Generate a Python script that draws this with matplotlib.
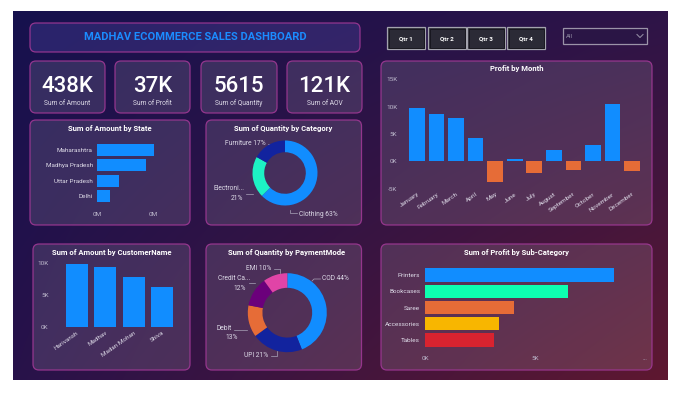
import numpy as np
import matplotlib.pyplot as plt
from matplotlib.patches import FancyBboxPatch
import matplotlib.ticker as mticker

plt.rcParams['font.family'] = ['Roboto', 'DejaVu Sans']

W, H = 680, 393

# ---- data ----
kpi_values = ['438K', '37K', '5615', '121K']
kpi_labels = ['Sum of Amount', 'Sum of Profit', 'Sum of Quantity', 'Sum of AOV']

quarters = ['Qtr 1', 'Qtr 2', 'Qtr 3', 'Qtr 4']

states = ['Maharashtra', 'Madhya Pradesh', 'Uttar Pradesh', 'Delhi']
state_amount = [0.102, 0.088, 0.039, 0.023]  # in millions

categories = ['Clothing', 'Electronics', 'Furniture']
category_qty = [3516, 1154, 945]

months = ['January', 'February', 'March', 'April', 'May', 'June', 'July',
          'August', 'September', 'October', 'November', 'December']
month_profit = [9800, 8600, 8000, 4300, -3800, 500, -2200, 2100, -1500, 3000, 10400, -1700]

customers = ['Harivansh', 'Madhav', 'Madan Mohan', 'Shiva']
customer_amount = [9900, 9400, 7800, 6300]

pay_modes = ['COD', 'UPI', 'Debit', 'Credit Card', 'EMI']
pay_qty = [2470, 1180, 730, 674, 561]

sub_cats = ['Printers', 'Bookcases', 'Saree', 'Accessories', 'Tables']
sub_profit = [8600, 6500, 4050, 3350, 3140]

BLUE = '#118DFF'
ORANGE = '#E66C37'
TXT = '#dedbe8'
TICK = '#bdb8cc'

fig = plt.figure(figsize=(W / 100, H / 100), dpi=100)
fig.patch.set_facecolor('white')

# background canvas in pixel coordinates
bg = fig.add_axes([0, 0, 1, 1])
bg.set_xlim(0, W)
bg.set_ylim(H, 0)
bg.axis('off')

# gradient: navy top-left -> maroon bottom-right
tl = np.array([22, 17, 78]) / 255
tr = np.array([46, 20, 72]) / 255
bl = np.array([40, 18, 74]) / 255
br = np.array([94, 24, 48]) / 255
u = np.linspace(0, 1, 200)[None, :, None]
v = np.linspace(0, 1, 120)[:, None, None]
grad = (1 - v) * ((1 - u) * tl + u * tr) + v * ((1 - u) * bl + u * br)
bg.imshow(grad, extent=(12.5, 667, 380, 11.5), aspect='auto', zorder=0, interpolation='bilinear')


def panel(x0, y0, x1, y1, fc=(1, 1, 1, 0.12), ec=(0.62, 0.22, 0.58, 0.9), r=6):
    bg.add_patch(FancyBboxPatch((x0, y0), x1 - x0, y1 - y0,
                                boxstyle=f'round,pad=0,rounding_size={r}',
                                fc=fc, ec=ec, lw=0.9, zorder=1))


def sub_ax(x0, y0, x1, y1):
    a = fig.add_axes([x0 / W, 1 - y1 / H, (x1 - x0) / W, (y1 - y0) / H])
    a.set_facecolor('none')
    for s in a.spines.values():
        s.set_visible(False)
    a.tick_params(length=0, colors=TICK, labelsize=4.6)
    return a


def k_fmt(v, _):
    return f'{v / 1000:.0f}K'


# ---- header ----
panel(30, 23, 360, 52, fc=(0.42, 0.4, 0.85, 0.22))
bg.text(195, 37.5, 'MADHAV ECOMMERCE SALES DASHBOARD', color='#1b8cff', fontsize=8,
        fontweight='bold', ha='center', va='center', zorder=3)

qx = [387, 428, 467, 507]
for x, q in zip(qx, quarters):
    bg.add_patch(plt.Rectangle((x, 27), 38, 22, fc='#2b2a36', ec='#a3a3ad', lw=0.9, zorder=2))
    bg.add_patch(plt.Rectangle((x + 1.5, 28.5), 35, 19, fc='none', ec='#15141c', lw=0.6, zorder=2))
    bg.text(x + 19, 38.5, q, color='white', fontsize=4.5, fontweight='bold',
            ha='center', va='center', zorder=3)

bg.add_patch(plt.Rectangle((563, 28), 84, 15.5, fc='#2a1545', ec='#9b93a8', lw=0.9, zorder=2))
bg.text(566, 36, 'All', color='#8e88a0', fontsize=4.5, ha='left', va='center', zorder=3)
bg.plot([637, 640, 643], [34.5, 37.5, 34.5], color='#8e88a0', lw=0.8, zorder=3)

# ---- KPI cards ----
kx = [(30, 105), (115, 190), (201, 277), (287, 362)]
for (x0, x1), val, lab in zip(kx, kpi_values, kpi_labels):
    panel(x0, 61, x1, 113)
    bg.text((x0 + x1) / 2, 86, val, color='white', fontsize=16, fontweight='medium',
            ha='center', va='center', zorder=3)
    bg.text((x0 + x1) / 2, 103.5, lab, color=TXT, fontsize=4.8, ha='center', va='center', zorder=3)

# ---- panels ----
panel(30, 120, 190, 225)
panel(206, 120, 361.5, 225)
panel(381, 61, 652, 225)
panel(33, 244, 190, 370)
panel(206, 244, 361.5, 370)
panel(381, 244, 652, 370)

titles = [(110, 128.5, 'Sum of Amount by State'),
          (283.5, 128.5, 'Sum of Quantity by Category'),
          (516.5, 68.5, 'Profit by Month'),
          (112, 252.5, 'Sum of Amount by CustomerName'),
          (286.5, 252.5, 'Sum of Quantity by PaymentMode'),
          (516.5, 252.5, 'Sum of Profit by Sub-Category')]
for x, y, t in titles:
    bg.text(x, y, t, color='white', fontsize=5.5, fontweight='bold', ha='center', va='center', zorder=3)

# ---- Sum of Amount by State ----
ax = sub_ax(97, 142.5, 97 + 58.8, 203.5)
ax.barh(range(len(states)), state_amount, height=0.78, color=BLUE)
ax.set_ylim(len(states) - 0.5, -0.5)
ax.set_xlim(0, 0.105)
ax.set_yticks(range(len(states)))
ax.set_yticklabels(states)
ax.set_xticks([0, 0.1])
ax.xaxis.set_major_formatter(mticker.FuncFormatter(lambda v, _: f'{v:.0f}M'))
ax.tick_params(axis='y', pad=3, colors=TXT)
ax.tick_params(axis='x', pad=6)

# ---- Profit by Month ----
ax = sub_ax(407.2, 79.3, 641.8, 188.7)
ax.bar(range(len(months)), month_profit, width=0.8,
       color=[BLUE if p >= 0 else ORANGE for p in month_profit])
ax.set_xlim(-0.5, len(months) - 0.5)
ax.set_ylim(-5000, 15000)
ax.set_yticks([-5000, 0, 5000, 10000, 15000])
ax.yaxis.set_major_formatter(mticker.FuncFormatter(k_fmt))
ax.set_xticks(range(len(months)))
ax.set_xticklabels(months, rotation=35, ha='right', rotation_mode='anchor', color=TXT)
ax.tick_params(axis='y', pad=7)
ax.tick_params(axis='x', pad=2)

# ---- Sum of Amount by CustomerName ----
ax = sub_ax(62.5, 263.3, 176.2, 327.3)
ax.bar(range(len(customers)), customer_amount, width=0.77, color=BLUE)
ax.set_xlim(-0.5, len(customers) - 0.5)
ax.set_ylim(0, 10000)
ax.set_yticks([0, 5000, 10000])
ax.yaxis.set_major_formatter(mticker.FuncFormatter(k_fmt))
ax.set_xticks(range(len(customers)))
ax.set_xticklabels(customers, rotation=35, ha='right', rotation_mode='anchor', color=TXT)
ax.tick_params(axis='y', pad=10)
ax.tick_params(axis='x', pad=2)

# ---- Sum of Profit by Sub-Category ----
ax = sub_ax(425, 266.9, 645, 348.1)
ax.barh(range(len(sub_cats)), sub_profit, height=0.82,
        color=[BLUE, '#0DFFB0', ORANGE, '#F8B600', '#D8232F'])
ax.set_ylim(len(sub_cats) - 0.5, -0.5)
ax.set_xlim(0, 10000)
ax.set_yticks(range(len(sub_cats)))
ax.set_yticklabels(sub_cats, color=TXT)
ax.set_xticks([0, 5000, 10000])
ax.set_xticklabels(['0K', '5K', '...'])
ax.tick_params(axis='y', pad=3.5)
ax.tick_params(axis='x', pad=6)


# ---- donuts ----
def donut(cx, cy, r, values, colors, width):
    a = fig.add_axes([(cx - 1.6 * r) / W, 1 - (cy + 1.6 * r) / H, 3.2 * r / W, 3.2 * r / H])
    a.pie(values, colors=colors, startangle=90, counterclock=False, radius=1,
          wedgeprops=dict(width=width, edgecolor='none'))
    a.set_xlim(-1.6, 1.6)
    a.set_ylim(-1.6, 1.6)
    a.axis('off')
    return a


def share(vals):
    return [round(100 * v / sum(vals)) for v in vals]


donut(285, 173, 32.5, category_qty, [BLUE, '#1DF2C4', '#12239E'], 0.36)
cs = share(category_qty)
lab_kw = dict(color=TXT, fontsize=4.8, zorder=3)
lead = dict(color='#a9a3b8', lw=0.5, zorder=3)
bg.text(266, 143.5, f'Furniture {cs[2]}%', ha='right', va='center', **lab_kw)
bg.plot([268, 274, 274], [143.5, 143.5, 146.5], **lead)
bg.text(244, 189, 'Electroni...', ha='right', va='center', **lab_kw)
bg.text(243, 198.5, f'{cs[1]}%', ha='right', va='center', **lab_kw)
bg.plot([246, 253], [193.5, 193.5], **lead)
bg.text(299, 214, f'Clothing {cs[0]}%', ha='left', va='center', **lab_kw)
bg.plot([290, 290, 297], [210, 213, 213], **lead)

donut(287.3, 312.7, 39.5, pay_qty, [BLUE, '#12239E', ORANGE, '#6B007B', '#E044A7'], 0.37)
ps = share(pay_qty)
bg.text(322.5, 279, f'COD {ps[0]}%', ha='left', va='center', **lab_kw)
bg.plot([312, 314, 320.5], [281, 279, 279], **lead)
bg.text(271.5, 269, f'EMI {ps[4]}%', ha='right', va='center', **lab_kw)
bg.plot([274, 280, 280], [269, 269, 273], **lead)
bg.text(250, 278, 'Credit Ca...', ha='right', va='center', **lab_kw)
bg.text(246, 288, f'{ps[3]}%', ha='right', va='center', **lab_kw)
bg.plot([248.5, 255], [283, 283], **lead)
bg.text(232, 328, 'Debit', ha='right', va='center', **lab_kw)
bg.text(238, 337.5, f'{ps[2]}%', ha='right', va='center', **lab_kw)
bg.plot([234, 247], [329.5, 329.5], **lead)
bg.text(268.5, 355.5, f'UPI {ps[1]}%', ha='right', va='center', **lab_kw)
bg.plot([271, 277, 277], [355.5, 355.5, 351], **lead)

fig.savefig('out.png', dpi=100, facecolor='white')
